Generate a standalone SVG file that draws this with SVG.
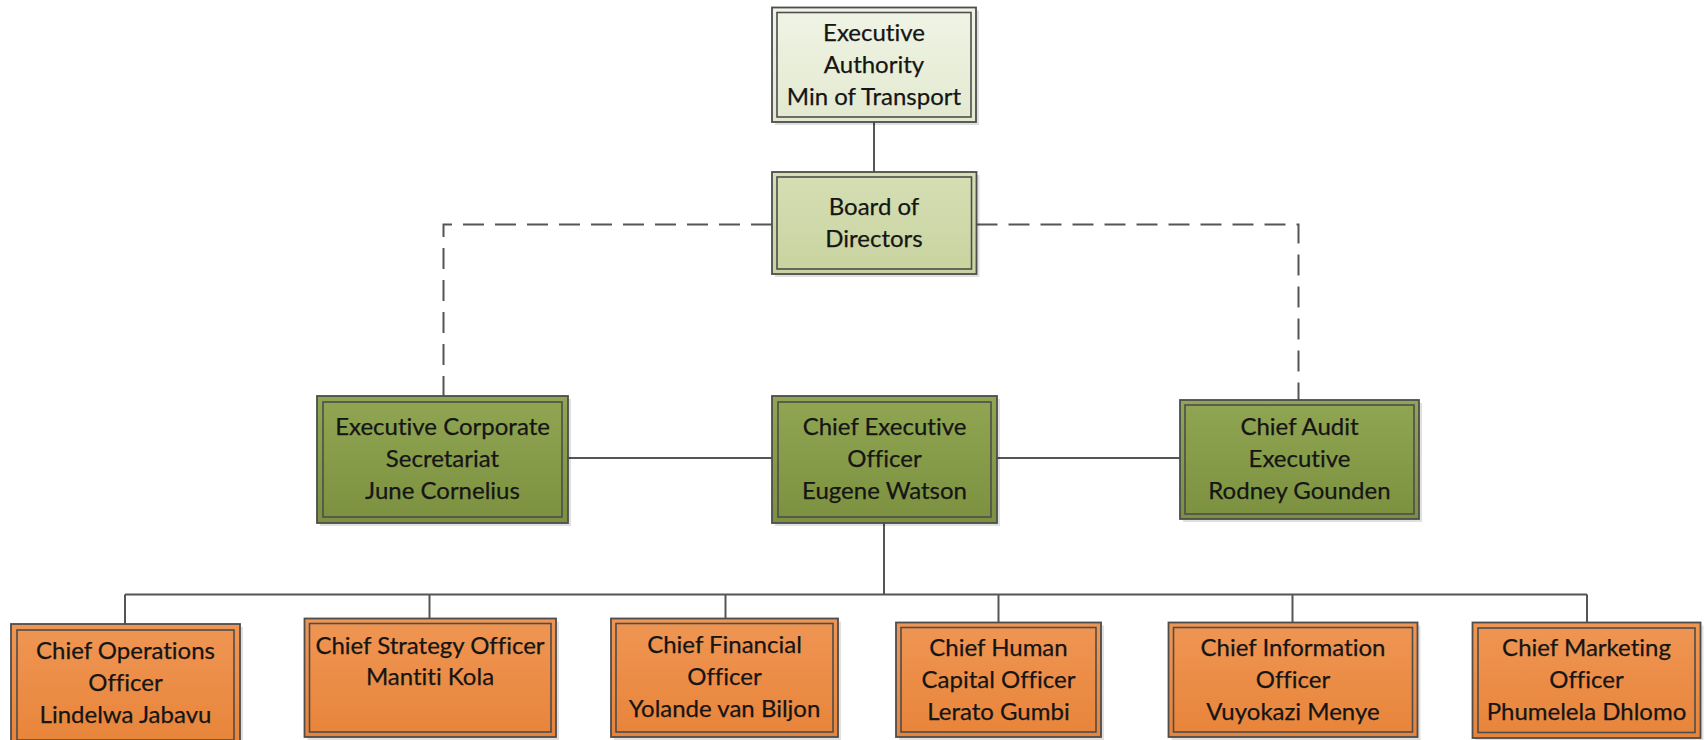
<svg xmlns="http://www.w3.org/2000/svg" width="1705" height="740" viewBox="0 0 1705 740">
<defs>
<linearGradient id="gLight" x1="0" y1="0" x2="0" y2="1"><stop offset="0" stop-color="#F0F4E6"/><stop offset="1" stop-color="#E2E9CF"/></linearGradient>
<linearGradient id="gBoard" x1="0" y1="0" x2="0" y2="1"><stop offset="0" stop-color="#D6DFB5"/><stop offset="1" stop-color="#C8D39F"/></linearGradient>
<linearGradient id="gGreen" x1="0" y1="0" x2="0" y2="1"><stop offset="0" stop-color="#91A653"/><stop offset="1" stop-color="#7C913F"/></linearGradient>
<linearGradient id="gOrange" x1="0" y1="0" x2="0" y2="1"><stop offset="0" stop-color="#EF9654"/><stop offset="1" stop-color="#E8843A"/></linearGradient>
</defs>
<style>
.shadow{fill:#000;opacity:0.12}
.outer{stroke:#4D4D4D;stroke-width:1.8}
.inner{fill:none;stroke:#4D4D4D;stroke-width:1.6}
.lbl{font-family:Lato,"Noto Sans",sans-serif;font-size:24px;fill:#151515;text-anchor:middle;font-variant-ligatures:none;font-feature-settings:"liga" 0,"clig" 0;stroke:#151515;stroke-width:0.25}
.conn{fill:none;stroke:#555;stroke-width:2}
.dash{fill:none;stroke:#555;stroke-width:2;stroke-dasharray:21 11}
</style>
<rect width="1705" height="740" fill="#FFFFFF"/>

<g id="connectors">
<line class="conn" x1="874" y1="122" x2="874" y2="172"/>
<path class="dash" d="M772,224.5 H443.5 V396"/>
<path class="dash" d="M976.5,224.5 H1298.5 V400"/>
<line class="conn" x1="568" y1="458" x2="772" y2="458"/>
<line class="conn" x1="997" y1="458" x2="1180" y2="458"/>
<line class="conn" x1="884" y1="523" x2="884" y2="594.5"/>
<line class="conn" x1="125" y1="594.5" x2="1587" y2="594.5"/>
<line class="conn" x1="125" y1="594.5" x2="125" y2="624"/>
<line class="conn" x1="429.5" y1="594.5" x2="429.5" y2="618.5"/>
<line class="conn" x1="725.5" y1="594.5" x2="725.5" y2="618.5"/>
<line class="conn" x1="998.5" y1="594.5" x2="998.5" y2="622.5"/>
<line class="conn" x1="1292.5" y1="594.5" x2="1292.5" y2="622.5"/>
<line class="conn" x1="1587" y1="594.5" x2="1587" y2="622.5"/>
</g>

<g id="executive-authority">
<rect class="shadow" x="775" y="10.5" width="204" height="114.5"/>
<rect class="outer" x="772" y="7.5" width="204" height="114.5" fill="url(#gLight)"/>
<rect class="inner" x="777" y="12.5" width="194" height="104.5"/>
<text class="lbl" x="874" y="41">Executive</text>
<text class="lbl" x="874" y="73">Authority</text>
<text class="lbl" x="874" y="105">Min of Transport</text>
</g>

<g id="board">
<rect class="shadow" x="775" y="175" width="204.5" height="102"/>
<rect class="outer" x="772" y="172" width="204.5" height="102" fill="url(#gBoard)"/>
<rect class="inner" x="777" y="177" width="194.5" height="92"/>
<text class="lbl" x="874" y="215">Board of</text>
<text class="lbl" x="874" y="247">Directors</text>
</g>

<g id="exec-corporate-secretariat">
<rect class="shadow" x="320" y="399" width="251" height="127"/>
<rect class="outer" x="317" y="396" width="251" height="127" fill="url(#gGreen)"/>
<rect class="inner" x="323" y="402" width="239" height="115"/>
<text class="lbl" x="442.5" y="435">Executive Corporate</text>
<text class="lbl" x="442.5" y="467">Secretariat</text>
<text class="lbl" x="442.5" y="499">June Cornelius</text>
</g>

<g id="ceo">
<rect class="shadow" x="775" y="399" width="225" height="127"/>
<rect class="outer" x="772" y="396" width="225" height="127" fill="url(#gGreen)"/>
<rect class="inner" x="778" y="402" width="213" height="115"/>
<text class="lbl" x="884.5" y="435">Chief Executive</text>
<text class="lbl" x="884.5" y="467">Officer</text>
<text class="lbl" x="884.5" y="499">Eugene Watson</text>
</g>

<g id="chief-audit">
<rect class="shadow" x="1183" y="403" width="239" height="119"/>
<rect class="outer" x="1180" y="400" width="239" height="119" fill="url(#gGreen)"/>
<rect class="inner" x="1185" y="405" width="229" height="109"/>
<text class="lbl" x="1299.5" y="435">Chief Audit</text>
<text class="lbl" x="1299.5" y="467">Executive</text>
<text class="lbl" x="1299.5" y="499">Rodney Gounden</text>
</g>

<g id="coo">
<rect class="shadow" x="14" y="627" width="229" height="122"/>
<rect class="outer" x="11" y="624" width="229" height="122" fill="url(#gOrange)"/>
<rect class="inner" x="17" y="630" width="217" height="110"/>
<text class="lbl" x="125.5" y="659">Chief Operations</text>
<text class="lbl" x="125.5" y="691">Officer</text>
<text class="lbl" x="125.5" y="723">Lindelwa Jabavu</text>
</g>

<g id="cso">
<rect class="shadow" x="307.5" y="621.5" width="251.5" height="118.5"/>
<rect class="outer" x="304.5" y="618.5" width="251.5" height="118.5" fill="url(#gOrange)"/>
<rect class="inner" x="309.5" y="623.5" width="241.5" height="108.5"/>
<text class="lbl" x="430" y="654">Chief Strategy Officer</text>
<text class="lbl" x="430" y="685">Mantiti Kola</text>
</g>

<g id="cfo">
<rect class="shadow" x="614" y="621.5" width="227" height="118.5"/>
<rect class="outer" x="611" y="618.5" width="227" height="118.5" fill="url(#gOrange)"/>
<rect class="inner" x="616" y="623.5" width="217" height="108.5"/>
<text class="lbl" x="724.5" y="653">Chief Financial</text>
<text class="lbl" x="724.5" y="685">Officer</text>
<text class="lbl" x="724.5" y="717">Yolande van Biljon</text>
</g>

<g id="chco">
<rect class="shadow" x="899" y="625.5" width="205" height="114.5"/>
<rect class="outer" x="896" y="622.5" width="205" height="114.5" fill="url(#gOrange)"/>
<rect class="inner" x="901" y="627.5" width="195" height="104.5"/>
<text class="lbl" x="998.5" y="656">Chief Human</text>
<text class="lbl" x="998.5" y="688">Capital Officer</text>
<text class="lbl" x="998.5" y="720">Lerato Gumbi</text>
</g>

<g id="cio">
<rect class="shadow" x="1171.5" y="625.5" width="249" height="114.5"/>
<rect class="outer" x="1168.5" y="622.5" width="249" height="114.5" fill="url(#gOrange)"/>
<rect class="inner" x="1173.5" y="627.5" width="239" height="104.5"/>
<text class="lbl" x="1293" y="656">Chief Information</text>
<text class="lbl" x="1293" y="688">Officer</text>
<text class="lbl" x="1293" y="720">Vuyokazi Menye</text>
</g>

<g id="cmo">
<rect class="shadow" x="1475.5" y="625.5" width="228" height="115.5"/>
<rect class="outer" x="1472.5" y="622.5" width="228" height="115.5" fill="url(#gOrange)"/>
<rect class="inner" x="1478" y="628" width="217" height="104.5"/>
<text class="lbl" x="1586.5" y="656">Chief Marketing</text>
<text class="lbl" x="1586.5" y="688">Officer</text>
<text class="lbl" x="1586.5" y="720">Phumelela Dhlomo</text>
</g>
</svg>
